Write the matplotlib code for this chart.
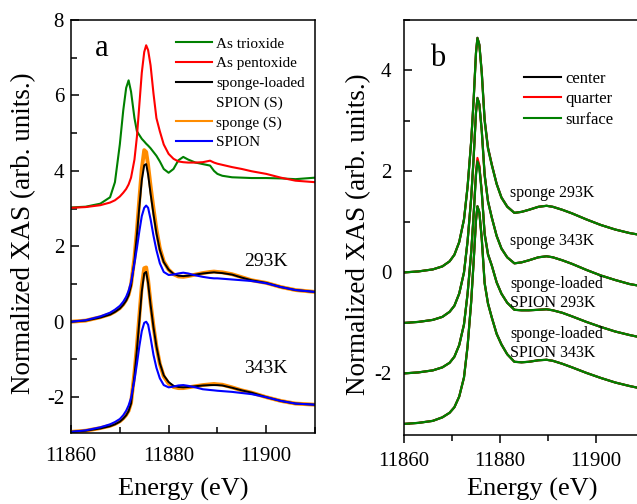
import matplotlib
matplotlib.use("Agg")
import matplotlib.pyplot as plt
from matplotlib.lines import Line2D
from matplotlib.ticker import MultipleLocator

plt.rcParams['font.family'] = ['Liberation Serif', 'DejaVu Serif']
plt.rcParams['axes.unicode_minus'] = False

# ---- panel a: As K-edge XANES, reference oxides and samples ----
energy_a = [11860, 11863, 11866, 11868, 11869, 11870, 11870.7, 11871.3, 11871.8, 11872.3,
            11873, 11873.5, 11874, 11874.5, 11875, 11875.4, 11875.8, 11876.3, 11876.9, 11877.5,
            11878.2, 11879, 11880, 11881, 11882, 11883, 11884, 11885.5, 11887, 11888.5,
            11889.3, 11890, 11891, 11893, 11895, 11897, 11900, 11903, 11906, 11910]

as_trioxide = [3.03, 3.05, 3.13, 3.30, 3.70, 4.70, 5.60, 6.20, 6.40, 6.10,
               5.40, 5.05, 4.95, 4.85, 4.78, 4.72, 4.67, 4.60, 4.50, 4.40,
               4.25, 4.05, 3.95, 4.05, 4.28, 4.37, 4.30, 4.22, 4.18, 4.14,
               4.00, 3.92, 3.87, 3.83, 3.82, 3.81, 3.81, 3.80, 3.78, 3.82]
as_pentoxide = [3.02, 3.04, 3.09, 3.16, 3.22, 3.32, 3.42, 3.52, 3.64, 3.82,
                4.30, 4.90, 5.75, 6.60, 7.15, 7.33, 7.20, 6.80, 6.05, 5.40,
                5.05, 4.70, 4.45, 4.32, 4.25, 4.23, 4.22, 4.22, 4.23, 4.27,
                4.22, 4.19, 4.16, 4.10, 4.05, 3.99, 3.92, 3.82, 3.74, 3.70]

sponge_293 = [0.00, 0.03, 0.12, 0.20, 0.27, 0.36, 0.46, 0.58, 0.72, 0.98,
              1.70, 2.42, 3.25, 4.05, 4.55, 4.50, 4.15, 3.60, 3.00, 2.45,
              1.95, 1.60, 1.38, 1.26, 1.20, 1.19, 1.21, 1.25, 1.29, 1.32,
              1.33, 1.32, 1.31, 1.26, 1.18, 1.10, 1.03, 0.92, 0.84, 0.79]
loaded_293 = [0.00, 0.03, 0.11, 0.19, 0.26, 0.35, 0.45, 0.56, 0.70, 0.95,
              1.62, 2.30, 3.05, 3.75, 4.15, 4.18, 3.90, 3.40, 2.85, 2.35,
              1.90, 1.58, 1.38, 1.27, 1.22, 1.21, 1.22, 1.25, 1.28, 1.30,
              1.31, 1.30, 1.29, 1.25, 1.17, 1.10, 1.03, 0.92, 0.84, 0.79]
spion_293 = [0.00, 0.04, 0.14, 0.24, 0.32, 0.42, 0.53, 0.66, 0.82, 1.05,
             1.55, 1.95, 2.40, 2.80, 3.02, 3.08, 3.02, 2.72, 2.28, 1.90,
             1.55, 1.32, 1.24, 1.25, 1.28, 1.30, 1.28, 1.23, 1.19, 1.16,
             1.15, 1.15, 1.14, 1.12, 1.10, 1.08, 1.02, 0.92, 0.84, 0.79]

sponge_343 = [-2.92, -2.89, -2.82, -2.76, -2.71, -2.64, -2.56, -2.47, -2.36, -2.15,
              -1.35, -0.65, 0.15, 0.95, 1.42, 1.44, 1.10, 0.50, -0.12, -0.65,
              -1.12, -1.45, -1.64, -1.73, -1.76, -1.76, -1.74, -1.71, -1.68, -1.66,
              -1.65, -1.66, -1.67, -1.74, -1.82, -1.88, -2.00, -2.10, -2.17, -2.20]
loaded_343 = [-2.92, -2.89, -2.83, -2.77, -2.72, -2.65, -2.57, -2.48, -2.37, -2.17,
              -1.42, -0.75, 0.02, 0.80, 1.28, 1.32, 1.02, 0.45, -0.15, -0.65,
              -1.10, -1.42, -1.60, -1.70, -1.73, -1.74, -1.73, -1.71, -1.69, -1.68,
              -1.68, -1.68, -1.69, -1.75, -1.82, -1.88, -2.00, -2.10, -2.17, -2.20]
spion_343 = [-2.92, -2.88, -2.80, -2.72, -2.66, -2.58, -2.48, -2.36, -2.22, -2.02,
             -1.55, -1.12, -0.65, -0.25, -0.03, 0.00, -0.08, -0.42, -0.88, -1.22,
             -1.50, -1.68, -1.74, -1.72, -1.69, -1.68, -1.70, -1.74, -1.79, -1.81,
             -1.82, -1.83, -1.84, -1.86, -1.89, -1.92, -2.00, -2.10, -2.17, -2.20]

# ---- panel b: center / quarter / surface of each sponge ----
energy_b = [11860, 11863, 11866, 11868, 11869.5, 11870.5, 11871.5, 11872.5, 11873.25, 11874,
            11874.5, 11875, 11875.3, 11875.7, 11876.2, 11876.8, 11877.5, 11878.3, 11879.3, 11880.3,
            11881.5, 11883, 11884.5, 11886, 11888, 11889.7, 11891, 11893, 11895, 11898,
            11901, 11904, 11907, 11910]

sp293_center = [0.00, 0.02, 0.06, 0.12, 0.22, 0.35, 0.60, 1.05, 1.70, 2.60,
                3.40, 4.35, 4.65, 4.52, 3.98, 3.04, 2.48, 2.14, 1.76, 1.49,
                1.31, 1.18, 1.20, 1.24, 1.30, 1.32, 1.30, 1.24, 1.17, 1.05,
                0.94, 0.85, 0.78, 0.73]
sp293_quarter = [0.00, 0.02, 0.06, 0.12, 0.22, 0.35, 0.60, 1.05, 1.70, 2.60,
                 3.40, 4.35, 4.64, 4.50, 3.95, 3.01, 2.46, 2.13, 1.75, 1.48,
                 1.30, 1.18, 1.20, 1.24, 1.30, 1.32, 1.30, 1.24, 1.17, 1.05,
                 0.94, 0.85, 0.78, 0.73]
sp293_surface = [0.00, 0.02, 0.06, 0.12, 0.22, 0.35, 0.60, 1.05, 1.70, 2.60,
                 3.40, 4.35, 4.64, 4.50, 3.95, 3.00, 2.45, 2.12, 1.75, 1.48,
                 1.30, 1.18, 1.20, 1.24, 1.30, 1.32, 1.30, 1.24, 1.17, 1.05,
                 0.94, 0.85, 0.78, 0.73]

sp343_center = [-1.00, -0.98, -0.94, -0.88, -0.78, -0.66, -0.42, 0.00, 0.62, 1.48,
                2.25, 3.17, 3.46, 3.34, 2.83, 1.95, 1.42, 1.09, 0.73, 0.48,
                0.30, 0.18, 0.20, 0.24, 0.30, 0.32, 0.30, 0.24, 0.17, 0.05,
                -0.06, -0.15, -0.23, -0.28]
sp343_quarter = [-1.00, -0.98, -0.94, -0.88, -0.78, -0.66, -0.42, 0.00, 0.62, 1.48,
                 2.25, 3.17, 3.45, 3.32, 2.80, 1.92, 1.40, 1.08, 0.72, 0.47,
                 0.30, 0.18, 0.20, 0.24, 0.30, 0.32, 0.30, 0.24, 0.17, 0.05,
                 -0.06, -0.15, -0.23, -0.28]
sp343_surface = [-1.00, -0.98, -0.94, -0.88, -0.78, -0.66, -0.42, 0.00, 0.62, 1.48,
                 2.25, 3.17, 3.45, 3.32, 2.80, 1.92, 1.40, 1.08, 0.72, 0.47,
                 0.30, 0.18, 0.20, 0.24, 0.30, 0.32, 0.30, 0.24, 0.17, 0.05,
                 -0.06, -0.15, -0.23, -0.28]

sl293_center = [-2.00, -1.98, -1.94, -1.88, -1.79, -1.67, -1.44, -1.03, -0.42, 0.40,
                1.12, 1.95, 2.22, 2.10, 1.61, 0.78, 0.37, 0.14, -0.19, -0.42,
                -0.60, -0.74, -0.75, -0.75, -0.74, -0.73, -0.75, -0.80, -0.87, -0.98,
                -1.08, -1.17, -1.24, -1.30]
sl293_quarter = [-2.00, -1.98, -1.94, -1.88, -1.79, -1.67, -1.44, -1.03, -0.42, 0.40,
                 1.14, 1.99, 2.27, 2.12, 1.60, 0.76, 0.35, 0.13, -0.20, -0.42,
                 -0.60, -0.74, -0.75, -0.75, -0.74, -0.73, -0.75, -0.80, -0.87, -0.98,
                 -1.08, -1.17, -1.24, -1.30]
sl293_surface = [-2.00, -1.98, -1.94, -1.88, -1.79, -1.67, -1.44, -1.03, -0.42, 0.40,
                 1.12, 1.93, 2.20, 2.07, 1.58, 0.75, 0.35, 0.13, -0.20, -0.42,
                 -0.60, -0.74, -0.75, -0.75, -0.74, -0.73, -0.75, -0.80, -0.87, -0.98,
                 -1.08, -1.17, -1.24, -1.30]

sl343_center = [-3.00, -2.98, -2.94, -2.87, -2.78, -2.67, -2.46, -2.08, -1.46, -0.58,
                0.20, 1.03, 1.31, 1.20, 0.69, -0.20, -0.61, -0.89, -1.21, -1.42,
                -1.62, -1.77, -1.78, -1.77, -1.74, -1.73, -1.75, -1.81, -1.88, -1.99,
                -2.09, -2.18, -2.25, -2.31]
sl343_quarter = [-3.00, -2.98, -2.94, -2.87, -2.78, -2.67, -2.46, -2.08, -1.46, -0.58,
                 0.20, 1.03, 1.31, 1.18, 0.66, -0.22, -0.62, -0.90, -1.22, -1.43,
                 -1.62, -1.77, -1.78, -1.77, -1.74, -1.73, -1.75, -1.81, -1.88, -1.99,
                 -2.09, -2.18, -2.25, -2.31]
sl343_surface = [-3.00, -2.98, -2.94, -2.87, -2.78, -2.67, -2.46, -2.08, -1.46, -0.58,
                 0.20, 1.03, 1.31, 1.18, 0.66, -0.22, -0.62, -0.90, -1.22, -1.43,
                 -1.62, -1.77, -1.78, -1.77, -1.74, -1.73, -1.75, -1.81, -1.88, -1.99,
                 -2.09, -2.18, -2.25, -2.31]

GREEN = '#008000'
RED = '#ff0000'
ORANGE = '#ff8c00'
BLUE = '#0000ff'

fig = plt.figure(figsize=(6.37, 5.04), dpi=100)
ax_a = fig.add_axes([0.1115, 0.1409, 0.383, 0.8194])
ax_b = fig.add_axes([0.6342, 0.1369, 0.3768, 0.8234])

# panel a
ax_a.plot(energy_a, as_trioxide, color=GREEN, lw=1.5)
ax_a.plot(energy_a, as_pentoxide, color=RED, lw=1.5)
for sp, ld, sn in [(sponge_293, loaded_293, spion_293), (sponge_343, loaded_343, spion_343)]:
    ax_a.plot(energy_a, sp, color=ORANGE, lw=2.8)
    ax_a.plot(energy_a, ld, color='black', lw=1.4)
    ax_a.plot(energy_a, sn, color=BLUE, lw=1.5)

ax_a.set_xlim(11860, 11910)
ax_a.set_ylim(-2.95, 8.0)
ax_a.xaxis.set_major_locator(MultipleLocator(20))
ax_a.xaxis.set_minor_locator(MultipleLocator(10))
ax_a.yaxis.set_major_locator(MultipleLocator(2))
ax_a.yaxis.set_minor_locator(MultipleLocator(1))
ax_a.tick_params(which='both', direction='in', top=False, right=False, width=1.1, labelsize=15)
ax_a.tick_params(which='major', length=5.5)
ax_a.tick_params(which='minor', length=4)
ax_a.tick_params(axis='y', pad=5)
ax_a.tick_params(axis='x', pad=10)

a_handles = [Line2D([], [], color=GREEN, lw=1.5), Line2D([], [], color=RED, lw=1.5),
             Line2D([], [], color='black', lw=1.5), Line2D([], [], color='none'),
             Line2D([], [], color=ORANGE, lw=1.5), Line2D([], [], color=BLUE, lw=1.5)]
a_labels = ['As trioxide', 'As pentoxide', 'sponge-loaded', 'SPION (S)', 'sponge (S)', 'SPION']
ax_a.legend(a_handles, a_labels, loc='upper left', bbox_to_anchor=(0.43, 0.959), frameon=False,
            fontsize=11, handlelength=2.35, handletextpad=0.3, labelspacing=0.39,
            borderpad=0, borderaxespad=0)

ax_a.text(11864.8, 7.04, 'a', fontsize=22)
ax_a.text(11899.9, 1.49, '293K', fontsize=14, ha='center')
ax_a.text(11899.9, -1.36, '343K', fontsize=14, ha='center')

ax_a.set_ylabel('Normalized XAS (arb. units.)', fontsize=19.5)
ax_a.yaxis.set_label_coords(-0.145, 0.485)
ax_a.set_xlabel('Energy (eV)', fontsize=19)
ax_a.xaxis.set_label_coords(0.461, -0.108)

# panel b
groups = [(sp293_center, sp293_quarter, sp293_surface),
          (sp343_center, sp343_quarter, sp343_surface),
          (sl293_center, sl293_quarter, sl293_surface),
          (sl343_center, sl343_quarter, sl343_surface)]
for center, quarter, surface in groups:
    ax_b.plot(energy_b, center, color='black', lw=1.5)
    ax_b.plot(energy_b, quarter, color=RED, lw=1.5)
    ax_b.plot(energy_b, surface, color=GREEN, lw=1.6)

ax_b.set_xlim(11860, 11910)
ax_b.set_ylim(-3.22, 5.0)
ax_b.xaxis.set_major_locator(MultipleLocator(20))
ax_b.xaxis.set_minor_locator(MultipleLocator(10))
ax_b.yaxis.set_major_locator(MultipleLocator(2))
ax_b.yaxis.set_minor_locator(MultipleLocator(1))
ax_b.tick_params(which='both', top=False, right=False, width=1.1, labelsize=15)
ax_b.tick_params(axis='y', which='both', direction='in', pad=9)
ax_b.tick_params(axis='x', which='both', direction='out', pad=7)
ax_b.tick_params(which='major', length=5.5)
ax_b.tick_params(which='minor', length=4)

b_handles = [Line2D([], [], color='black', lw=1.5), Line2D([], [], color=RED, lw=1.5),
             Line2D([], [], color=GREEN, lw=1.5)]
ax_b.legend(b_handles, ['center', 'quarter', 'surface'], loc='upper left',
            bbox_to_anchor=(0.5, 0.878), frameon=False, fontsize=12, handlelength=2.2,
            handletextpad=0.3, labelspacing=0.27, borderpad=0, borderaxespad=0)

ax_b.text(11865.4, 4.09, 'b', fontsize=22)
ax_b.text(11882.1, 1.50, 'sponge 293K', fontsize=11.5)
ax_b.text(11882.1, 0.55, 'sponge 343K', fontsize=11.5)
ax_b.text(11882.1, -0.69, 'sponge-loaded\nSPION 293K', fontsize=11.5, linespacing=1.25)
ax_b.text(11882.1, -1.68, 'sponge-loaded\nSPION 343K', fontsize=11.5, linespacing=1.25)

ax_b.set_ylabel('Normalized XAS (arb. units.)', fontsize=19.5)
ax_b.yaxis.set_label_coords(-0.1375, 0.485)
ax_b.set_xlabel('Energy (eV)', fontsize=19)
ax_b.xaxis.set_label_coords(0.535, -0.103)

for ax in (ax_a, ax_b):
    for s in ax.spines.values():
        s.set_linewidth(1.1)

fig.savefig('out.png', dpi=100)
